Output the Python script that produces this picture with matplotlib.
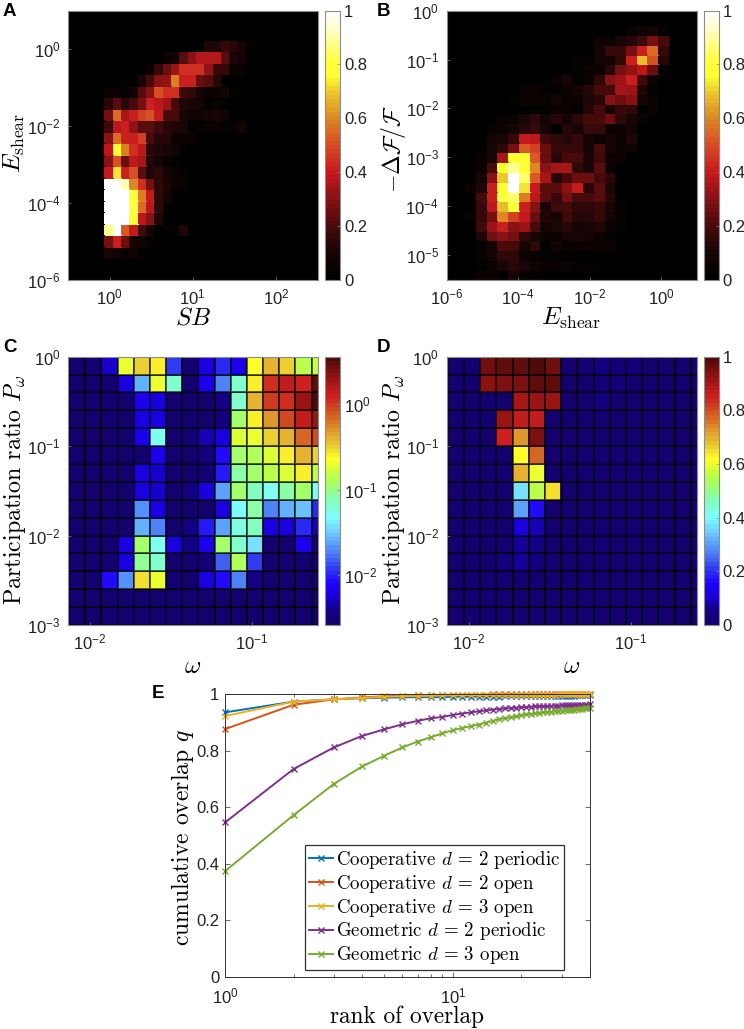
import numpy as np
import matplotlib
matplotlib.use("Agg")
import matplotlib.pyplot as plt
from matplotlib.colors import LogNorm, Normalize, LinearSegmentedColormap
from matplotlib.ticker import NullLocator, FixedLocator, NullFormatter

plt.rcParams['font.family'] = ['Liberation Sans', 'DejaVu Sans']
plt.rcParams['mathtext.fontset'] = 'cm'
plt.rcParams['axes.unicode_minus'] = False

W, H = 744, 1029
GRAY = '#8c8c8c'
DARK = '#303030'

# ---- panel A: rows from the bottom, row -> (first column, values)
A_EDGES_X = -0.55 + 0.1 * np.arange(32)
A_EDGES_Y = -6.05 + 0.3 * np.arange(25)
A_BASE = 0.01
A_ROWS = {
    2: (5, [.1, .07, .04, .07]),
    3: (5, [.28, .42, .25, .08, .07, .02]),
    4: (5, [.88, 1.0, .52, .4, .18, .08, .02, .02, .02, .12]),
    5: (5, [1, 1, 1, .78, .38, .3, .12]),
    6: (5, [1, 1, 1, .82, .55, .38, .15, .03]),
    7: (5, [1, 1, 1, .8, .58, .4, .15, .08]),
    8: (5, [1, 1, .92, .6, .45, .28, .15, .1, .05, .04]),
    9: (5, [.4, .72, .42, .5, .22, .12, .15, .08, .05, .03]),
    10: (5, [.3, .5, .25, .38, .35, .14, .09, .04, .03]),
    11: (5, [.38, .78, .58, .45, .38, .13, .12, .1, .08, .02]),
    12: (5, [.3, .55, .42, .42, .48, .2, .14, .14, .06, .06, .05]),
    13: (5, [.18, .38, .42, .32, .22, .22, .18, .14, .12, .1, .03, .03, .04, .05, .03, .04, .08]),
    14: (5, [.28, .55, .35, .42, .48, .5, .4, .2, .2, .1, .07, .07, .08, .1, .07]),
    15: (5, [.14, .22, .14, .2, .27, .42, .38, .33, .2, .12, .1, .08, .02, .05, .03]),
    16: (5, [.05, .05, .03, .08, .22, .3, .5, .44, .44, .18, .15, .08, .06, .06, .08, .02]),
    17: (7, [.02, .02, .1, .2, .3, .32, .58, .42, .42, .25, .22, .14]),
    18: (10, [.05, .17, .25, .34, .45, .44, .44, .32, .17, .17, .04, .06]),
    19: (12, [.05, .08, .22, .3, .37, .37, .37, .22, .1, .09]),
    20: (16, [.03, .12, .12, .17, .14, .08, .03]),
}

# ---- panel B: rows from the bottom, row -> (first column, values)
B_EDGES_X = -6.05 + 0.3 * np.arange(25)
B_EDGES_Y = -5.5 + 0.2 * np.arange(29)
B_BASE = 0.015
B_ROWS = {
    0: (3, [.05, .04, .02, .1, .04, .02]),
    1: (3, [.03, .05, .1, .14, .1, .07, .04, .04, .06, .03, .02, .03]),
    2: (3, [.04, .08, .15, .15, .06, .04, .02, .03, .03]),
    3: (3, [.03, .08, .2, .2, .08, .15, .01, .08, .04, .06, .05, .06, .06]),
    4: (3, [.12, .28, .3, .28, .15, .1, .06, .04, .1, .1, .08, .05, .03]),
    5: (3, [.18, .33, .42, .3, .33, .2, .08, .12, .14, .08, .1, .12, .06, .02]),
    6: (2, [.04, .17, .28, .6, .48, .4, .26, .12, .08, .18, .14, .13, .16, .08, .04]),
    7: (3, [.17, .38, .68, .78, .42, .3, .1, .18, .2, .15, .15, .16, .1, .02]),
    8: (3, [.2, .42, .82, .85, .58, .38, .22, .16, .28, .2, .2, .22, .14]),
    9: (2, [.05, .12, .42, .78, 1, .72, .4, .22, .22, .3, .4, .13, .22, .1]),
    10: (3, [.1, .3, .7, 1, .85, .52, .35, .14, .2, .25, .25, .2, .15]),
    11: (3, [.06, .2, .75, .88, .78, .6, .3, .35, .35, .15, .1, .22, .04]),
    12: (3, [.06, .1, .35, .75, .75, .52, .25, .14, .2, .2, .1, .18, .06, .05]),
    13: (4, [.1, .15, .28, .52, .48, .25, .17, .17, .17, .08, .2, .08, .06, .07]),
    14: (4, [.09, .1, .17, .4, .38, .18, .15, .13, .16, .08, .05, .09, .06, .12]),
    15: (4, [.06, .06, .09, .14, .16, .1, .01, .14, .1, .16, .16, .05, .05, .08]),
    16: (5, [.04, .05, .1, .15, .09, .13, .09, .15, .2, .2, .26, .15, .1, .05]),
    17: (7, [.02, .02, .02, .05, .05, .02, .14, .2, .08, .17, .15, .03, .04]),
    18: (6, [.02, .06, .06, .04, .08, .04, .06, .12, .14, .3, .26, .3, .08, .05]),
    19: (7, [.05, .05, .03, .03, .05, .09, .13, .2, .2, .35, .33, .12, .03]),
    20: (10, [.06, .1, .03, .05, .15, .3, .34, .42, .18, .05]),
    21: (12, [.02, .06, .06, .14, .28, .32, .38, .25, .02]),
    22: (12, [.04, .02, .08, .08, .15, .42, .68, .5, .14]),
    23: (14, [.08, .16, .17, .28, .42, .55, .17]),
    24: (14, [.07, .06, .1, .14, .18, .28, .2]),
    25: (17, [.04, .07, .08, .04]),
}

# ---- panels C, D share a grid
CD_EDGES_X = np.append(-2.13 + 0.1 * np.arange(16), -0.53)
CD_EDGES_Y = -3 + 0.2 * np.arange(16)

# panel C: log10 values, rows from the top
n = -2.6
C_LOG = [
    [n, n, -2.25, -.7, -.5, -.6, -1.9, n, -2.2, -1.95, -2.15, -.65, -.42, -.48, -.85, -.8],
    [n, n, n, -2.2, -1.58, -.68, -1.2, n, -2.17, -1.73, -1.2, -.6, .03, .12, .1, .5],
    [n, n, n, n, -2.15, -2.24, n, n, n, -2.4, -1.2, -.38, -.02, .05, .3, .55],
    [n, n, n, n, -2.24, -2.2, n, n, n, -2.46, -.95, -.6, -.28, -.08, .12, .3],
    [n, n, n, n, -2.15, -1.3, n, -2.5, -2.3, -2.24, -.75, -.72, -.52, -.38, -.18, -.08],
    [n, n, n, n, n, -2.15, n, n, -2.46, -2.05, -.92, -.88, -.75, -.6, -.42, -.52],
    [n, n, n, n, -2.24, -2.27, n, n, -2.53, -2.02, -1.08, -.92, -.86, -.75, -.62, -.86],
    [n, n, n, n, -2.24, -2.27, n, -2.43, -2.24, -1.64, -.95, -1.14, -1.3, -1.11, -.92, -1.33],
    [n, n, n, n, -1.67, -2.24, n, n, n, -2.24, -1.33, -1.11, -1.73, -1.58, -1.55, -1.96],
    [n, n, n, n, -1.58, -1.73, n, -2.43, -2.02, -1.61, -1.23, -1.14, -2.24, -2.24, -1.99, -2.3],
    [n, n, n, -2.24, -.95, -1.3, -2.24, -2.43, -2.17, -.95, -1.17, -1.45, n, n, -2.17, n],
    [n, n, n, -2.24, -1.02, -1.2, n, n, -2.53, -1.83, -.88, -1.9, n, n, n, n],
    [n, n, -2.05, -1.7, -.56, -.68, n, n, -2.24, -2.05, -1.73, -2.4, n, n, n, n],
    [n] * 16,
    [n] * 16,
]

# panel D: values, rows from the top
D_VAL = [
    [0, 0, .96, .98, .98, .99, .96, 0, 0, .04, .02, .02, .01, 0, 0, 0],
    [0, 0, .93, .94, .95, .98, .97, 0, 0, .02, .02, 0, 0, 0, 0, 0],
    [0, 0, 0, 0, .9, .92, .92, 0, 0, .04, 0, 0, 0, 0, 0, 0],
    [0, 0, 0, .91, .87, .86, 0, 0, 0, 0, 0, 0, 0, 0, 0, 0],
    [0, 0, 0, .85, .72, .95, 0, 0, 0, 0, 0, 0, 0, 0, 0, 0],
    [0, 0, 0, 0, .62, .77, 0, 0, 0, 0, 0, 0, 0, 0, 0, 0],
    [0, 0, 0, 0, .69, .6, 0, 0, 0, 0, 0, 0, 0, 0, 0, 0],
    [0, 0, 0, 0, .36, .55, .65, 0, 0, 0, 0, 0, 0, 0, 0, 0],
    [0, 0, 0, 0, .31, .16, 0, 0, 0, 0, 0, 0, 0, 0, 0, 0],
    [0, 0, 0, 0, .11, .09, 0, 0, 0, 0, 0, 0, 0, 0, 0, 0],
    [0, 0, 0, 0, .07, .05, 0, 0, 0, .02, 0, 0, 0, 0, 0, 0],
    [0, 0, 0, .04, .07, .04, 0, 0, 0, 0, 0, 0, 0, 0, 0, 0],
    [0] * 16,
    [0] * 16,
    [0] * 16,
]

# ---- panel E
RANK = list(range(1, 41))
CO2P = [.935, .973, .981, .985, .987, .988, .989, .989, .989, .990, .990, .990, .991, .991, .991, .991, .992, .992, .992, .992,
        .992, .993, .993, .993, .993, .993, .993, .994, .994, .994, .994, .994, .994, .994, .995, .995, .995, .995, .995, .995]
CO2O = [.876, .962, .981, .988, .992, .994, .995, .996, .997, .997, .998, .998, .998, .998, .999, .999, .999, .999, .999, .999,
        .999, .999, .999, .999, .999, .999, .999, .999, .999, .999, .999, .999, .999, .999, .999, .999, .999, .999, .999, .999]
CO3O = [.922, .973, .981, .986, .990, .992, .993, .994, .995, .995, .996, .996, .996, .997, .997, .997, .997, .997, .998, .998,
        .998, .998, .998, .998, .998, .998, .998, .998, .999, .999, .999, .999, .999, .999, .999, .999, .999, .999, .999, .999]
GE2P = [.546, .735, .811, .852, .875, .893, .905, .914, .919, .926, .931, .935, .939, .942, .945, .947, .949, .950, .952, .953,
        .954, .955, .956, .956, .957, .958, .958, .959, .959, .960, .960, .960, .961, .961, .961, .962, .962, .962, .962, .963]
GE3O = [.374, .572, .682, .744, .782, .811, .832, .847, .861, .872, .880, .886, .892, .899, .905, .911, .914, .918, .921, .925,
        .928, .930, .932, .934, .936, .937, .938, .939, .940, .941, .942, .943, .944, .945, .946, .947, .948, .949, .949, .950]
E_SERIES = [CO2P, CO2O, CO3O, GE2P, GE3O]
E_LABELS = [r'Cooperative $d\,=\,2$ periodic', r'Cooperative $d\,=\,2$ open', r'Cooperative $d\,=\,3$ open',
            r'Geometric $d\,=\,2$ periodic', r'Geometric $d\,=\,3$ open']
E_COLORS = ['#0072BD', '#D95319', '#EDB120', '#7E2F8E', '#77AC30']

# colour ramps
HOT_NODES = [(0, (0, 0, 0)), (.1, (25, 5, 5)), (.2, (75, 10, 12)), (.3, (135, 18, 20)), (.4, (200, 25, 30)),
             (.5, (215, 75, 35)), (.6, (220, 135, 35)), (.7, (235, 200, 45)), (.76, (255, 255, 50)),
             (.82, (255, 255, 60)), (.9, (255, 255, 160)), (1, (255, 255, 255))]
JET_NODES = [(0, (20, 0, 110)), (.05, (20, 0, 135)), (.1, (25, 0, 215)), (.15, (30, 0, 255)), (.2, (45, 50, 240)),
             (.25, (70, 110, 245)), (.3, (90, 160, 250)), (.35, (115, 210, 255)), (.4, (125, 255, 255)),
             (.46, (130, 255, 190)), (.52, (160, 255, 110)), (.57, (200, 255, 60)), (.62, (255, 255, 40)),
             (.67, (235, 205, 50)), (.72, (225, 160, 45)), (.77, (215, 110, 35)), (.82, (205, 65, 30)),
             (.86, (205, 30, 30)), (.92, (155, 20, 20)), (1, (80, 10, 10))]


def ramp(name, nodes):
    return LinearSegmentedColormap.from_list(
        name, [(p, tuple(c / 255 for c in rgb)) for p, rgb in nodes], N=64)


def sparse(rows, ncols, nrows, base):
    m = np.full((nrows, ncols), base, dtype=float)
    for r, (start, vals) in rows.items():
        m[r, start:start + len(vals)] = vals
    return m


def pow10(e):
    return r'$\mathdefault{10^{%d}}$' % e


fig = plt.figure(figsize=(W / 100, H / 100), dpi=100, facecolor='white')


def axpx(x0, y0, x1, y1):
    return fig.add_axes([x0 / W, 1 - y1 / H, (x1 - x0) / W, (y1 - y0) / H])


def txt(x, y, s, **kw):
    kw.setdefault('ha', 'center')
    kw.setdefault('va', 'center')
    return fig.text(x / W, 1 - y / H, s, **kw)


def label(x, y, s, size=17, rot=0):
    txt(x, y, s, family='cmr10', fontsize=size, rotation=rot)


def heat(box, cbox, ex, ey, z, cmap, norm, xlim, ylim, xt, yt, cticks, clabels, grid=False):
    ax = axpx(*box)
    kw = dict(edgecolor=(0, 0, 0, 0.6), linewidth=0.22) if grid else dict(edgecolor='face', linewidth=0.1)
    m = ax.pcolormesh(10.0 ** ex, 10.0 ** ey, z, cmap=cmap, norm=norm, **kw)
    ax.set_xscale('log')
    ax.set_yscale('log')
    ax.set_xlim(*xlim)
    ax.set_ylim(*ylim)
    ax.xaxis.set_major_locator(FixedLocator([10.0 ** e for e in xt]))
    ax.yaxis.set_major_locator(FixedLocator([10.0 ** e for e in yt]))
    ax.xaxis.set_minor_locator(NullLocator())
    ax.yaxis.set_minor_locator(NullLocator())
    ax.set_xticklabels([pow10(e) for e in xt])
    ax.set_yticklabels([pow10(e) for e in yt])
    ax.tick_params(axis='both', labelsize=12, length=2, width=0.5, direction='in', color=GRAY,
                   labelcolor='#222222', pad=5.5)
    for s in ax.spines.values():
        s.set_color(GRAY)
        s.set_linewidth(0.8)
    cax = axpx(*cbox)
    cb = fig.colorbar(m, cax=cax)
    cb.set_ticks(cticks)
    cb.set_ticklabels(clabels)
    cb.ax.yaxis.set_minor_locator(NullLocator())
    cb.ax.tick_params(labelsize=12, length=2, width=0.5, direction='in', color=GRAY,
                      labelcolor='#222222', pad=3)
    cb.outline.set_edgecolor(GRAY)
    cb.outline.set_linewidth(0.8)
    return ax


hot = ramp('refhot', HOT_NODES)
jet = ramp('refjet', JET_NODES)
lin_t = [0, .2, .4, .6, .8, 1]
lin_l = ['0', '0.2', '0.4', '0.6', '0.8', '1']

# A
heat((68, 10.7, 317.5, 279.5), (325, 10.7, 340, 279.5), A_EDGES_X, A_EDGES_Y,
     sparse(A_ROWS, 31, 24, A_BASE), hot, Normalize(0, 1),
     (10 ** -0.5, 10 ** 2.5), (1e-6, 10),
     [0, 1, 2], [-6, -4, -2, 0], lin_t, lin_l)
# B
heat((446.7, 10.7, 696.7, 279.5), (704, 10.7, 718.7, 279.5), B_EDGES_X, B_EDGES_Y,
     sparse(B_ROWS, 24, 28, B_BASE), hot, Normalize(0, 1),
     (1e-6, 10), (10 ** -5.5, 1),
     [-6, -4, -2, 0], [-5, -4, -3, -2, -1, 0], lin_t, lin_l)
# C
heat((68, 356.7, 317.5, 625), (325, 356.7, 340, 625), CD_EDGES_X, CD_EDGES_Y,
     10.0 ** np.array(C_LOG)[::-1], jet, LogNorm(10 ** -2.586, 10 ** 0.555),
     (10 ** -2.136, 10 ** -0.594), (1e-3, 1),
     [-2, -1], [-3, -2, -1, 0], [1e-2, 1e-1, 1e0], [pow10(-2), pow10(-1), pow10(0)], grid=True)
# D
heat((446.7, 356.7, 696.7, 625), (704, 356.7, 718.7, 625), CD_EDGES_X, CD_EDGES_Y,
     np.array(D_VAL, dtype=float)[::-1], jet, Normalize(0, 1),
     (10 ** -2.136, 10 ** -0.594), (1e-3, 1),
     [-2, -1], [-3, -2, -1, 0], lin_t, lin_l, grid=True)

# E
axe = axpx(225, 694, 590, 977)
for y, lab, col in zip(E_SERIES, E_LABELS, E_COLORS):
    axe.plot(RANK, y, color=col, lw=1.4, marker='x', ms=4, mew=1.0, label=lab, clip_on=False)
axe.set_xscale('log')
axe.set_xlim(1, 40)
axe.set_ylim(0, 1)
axe.xaxis.set_major_locator(FixedLocator([1, 10]))
axe.xaxis.set_minor_locator(FixedLocator([2, 3, 4, 5, 6, 7, 8, 9, 20, 30, 40]))
axe.xaxis.set_minor_formatter(NullFormatter())
axe.set_xticklabels([pow10(0), pow10(1)])
axe.set_yticks([0, .2, .4, .6, .8, 1])
axe.set_yticklabels(lin_l)
axe.tick_params(axis='both', which='major', labelsize=12, length=3.5, width=0.5, direction='in',
                top=True, right=True, color=DARK, labelcolor='#222222', pad=4)
axe.tick_params(axis='x', which='major', pad=6.5)
axe.tick_params(axis='x', which='minor', length=2, width=0.5, direction='in', top=True, color=DARK)
for s in axe.spines.values():
    s.set_color(DARK)
    s.set_linewidth(0.7)
leg = axe.legend(loc='upper left', bbox_to_anchor=((305 - 225) / 365, (977 - 845) / 283),
                 borderaxespad=0, frameon=True, fancybox=False, framealpha=1, edgecolor=DARK,
                 prop={'family': 'cmr10', 'size': 13.6}, labelspacing=0.1, handlelength=1.3,
                 handletextpad=0.15, borderpad=0.2)
leg.get_frame().set_linewidth(0.9)

# Panel letters
for x, y, s in [(9, 12, 'A'), (383, 12, 'B'), (10, 347, 'C'), (384, 347, 'D'), (158, 694, 'E')]:
    txt(x, y, s, fontsize=13.5, fontweight='bold', color='black')

# Axis labels
label(193, 318, r'$SB$', 18)
label(571, 318, r'$E_{\mathrm{shear}}$', 18)
label(14, 143, r'$E_{\mathrm{shear}}$', 18, 90)
label(394, 149, r'$-\Delta\mathcal{F}/\mathcal{F}$', 17, 90)
label(15, 490, r'Participation ratio $P_\omega$', 17.3, 90)
label(394, 490, r'Participation ratio $P_\omega$', 17.3, 90)
label(193, 667, r'$\omega$', 18)
label(572, 667, r'$\omega$', 18)
label(407, 1017, 'rank of overlap', 16.8)
label(182, 837, r'cumulative overlap $q$', 17, 90)

fig.savefig('out.png', dpi=100)
